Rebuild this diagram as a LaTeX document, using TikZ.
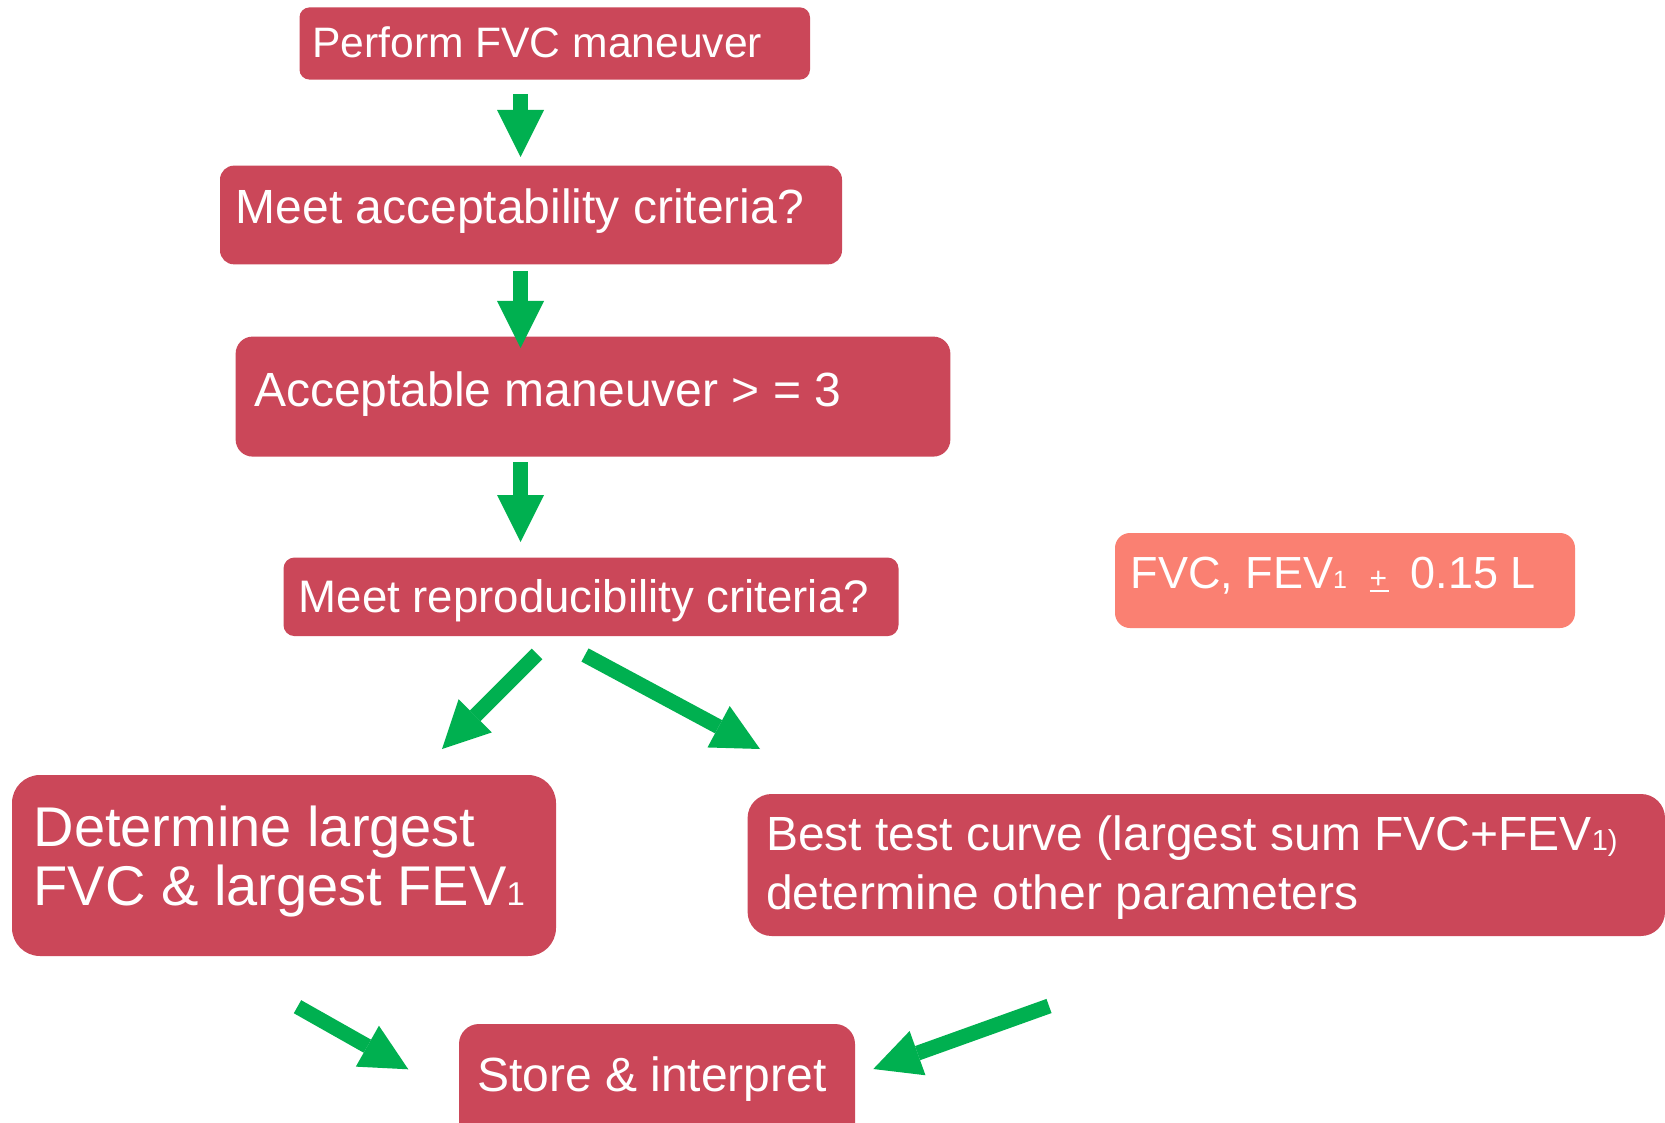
\documentclass[tikz,border=0pt]{standalone}
\usepackage{fontspec}
\setmainfont{Liberation Sans}
\usetikzlibrary{arrows.meta}
\definecolor{boxred}{RGB}{203,71,89}
\definecolor{salmonbox}{RGB}{250,128,114}
\definecolor{agreen}{RGB}{0,176,80}
\newcommand\setfs[1]{\fontsize{#1}{#1}\selectfont}
\begin{document}
\begin{tikzpicture}[x=1pt,y=-1pt,
  box/.style={rectangle, fill=boxred, draw=none, inner sep=0pt},
  txt/.style={text=white, inner sep=0pt, anchor=base west},
  garrow/.style={draw=agreen, line width=15pt, line cap=butt,
    -{Triangle[width=47pt,length=47pt,line width=0pt]}}]
\useasboundingbox (0,0) rectangle (1665,1123);
\clip (0,0) rectangle (1665,1123);
\fill[white] (0,0) rectangle (1665,1123);

% boxes
\node[box, minimum width=510.5pt, minimum height=72.2pt, rounded corners=10pt] (b1) at (554.75,43.5) {};
\node[box, minimum width=622pt, minimum height=98.7pt, rounded corners=14pt] (b2) at (531,215) {};
\node[box, minimum width=714.7pt, minimum height=120pt, rounded corners=17pt] (b3) at (593,396.6) {};
\node[box, minimum width=615pt, minimum height=78.6pt, rounded corners=11pt] (b4) at (591,596.8) {};
\node[rectangle, fill=salmonbox, inner sep=0pt, minimum width=460pt, minimum height=95pt, rounded corners=15pt] (fvc) at (1345,580.5) {};
\node[box, minimum width=544pt, minimum height=181pt, rounded corners=28pt] (b5) at (284,865.5) {};
\node[box, minimum width=917.4pt, minimum height=142pt, rounded corners=24pt] (b6) at (1206.3,865) {};
\node[box, minimum width=396pt, minimum height=120pt, rounded corners=20pt] (b7) at (657,1084) {};

% texts
\node[txt, font=\setfs{42.6}] (t1) at (312,58) {Perform FVC maneuver};
\node[txt, font=\setfs{48}] (t2) at (235.5,224) {Meet acceptability criteria?};
\node[txt, font=\setfs{48}] (t3) at (254,406) {Acceptable maneuver > = 3};
\node[txt, font=\setfs{45.6}] (t4) at (298.5,612) {Meet reproducibility criteria?};
\node[txt, font=\setfs{45}] (tf) at (1130.5,588) {FVC, FEV{\setfs{25}1}\hspace{22.6pt}{\setfs{30}\rlap{\rule[-4pt]{19pt}{1.8pt}}+}\hspace{23.5pt}0.15 L};
\node[txt, font=\setfs{56}] (t5a) at (33.5,846) {Determine largest};
\node[txt, font=\setfs{56}] (t5b) at (33.5,905) {FVC \& largest FEV{\setfs{33}1}};
\node[txt, font=\setfs{48}] (t6a) at (766,850) {Best test curve (largest sum FVC+FEV{\setfs{29}1)}};
\node[txt, font=\setfs{48}] (t6b) at (766,909) {determine other parameters};
\node[txt, font=\setfs{48}] (t7) at (477,1091) {Store \& interpret};

% arrow end points
\coordinate (a1s) at (520.5,94);
\coordinate (a1e) at (520.5,157);
\coordinate (a2s) at (520.5,271);
\coordinate (a2e) at (520.5,348);
\coordinate (a3s) at (520.5,462);
\coordinate (a3e) at (520.5,542);
\coordinate (a4s) at (537,654);
\coordinate (a4e) at (442,749);
\coordinate (a5s) at (585,655);
\coordinate (a5e) at (760,749);
\coordinate (a6s) at (297.5,1006.7);
\coordinate (a6e) at (408.3,1069.3);
\coordinate (a7s) at (1049,1006);
\coordinate (a7e) at (873.3,1069);

\draw[garrow] (a1s) -- (a1e);
\draw[garrow] (a2s) -- (a2e);
\draw[garrow] (a3s) -- (a3e);
\draw[garrow] (a4s) -- (a4e);
\draw[garrow] (a5s) -- (a5e);
\draw[garrow] (a6s) -- (a6e);
\draw[garrow] (a7s) -- (a7e);
\end{tikzpicture}
\end{document}
